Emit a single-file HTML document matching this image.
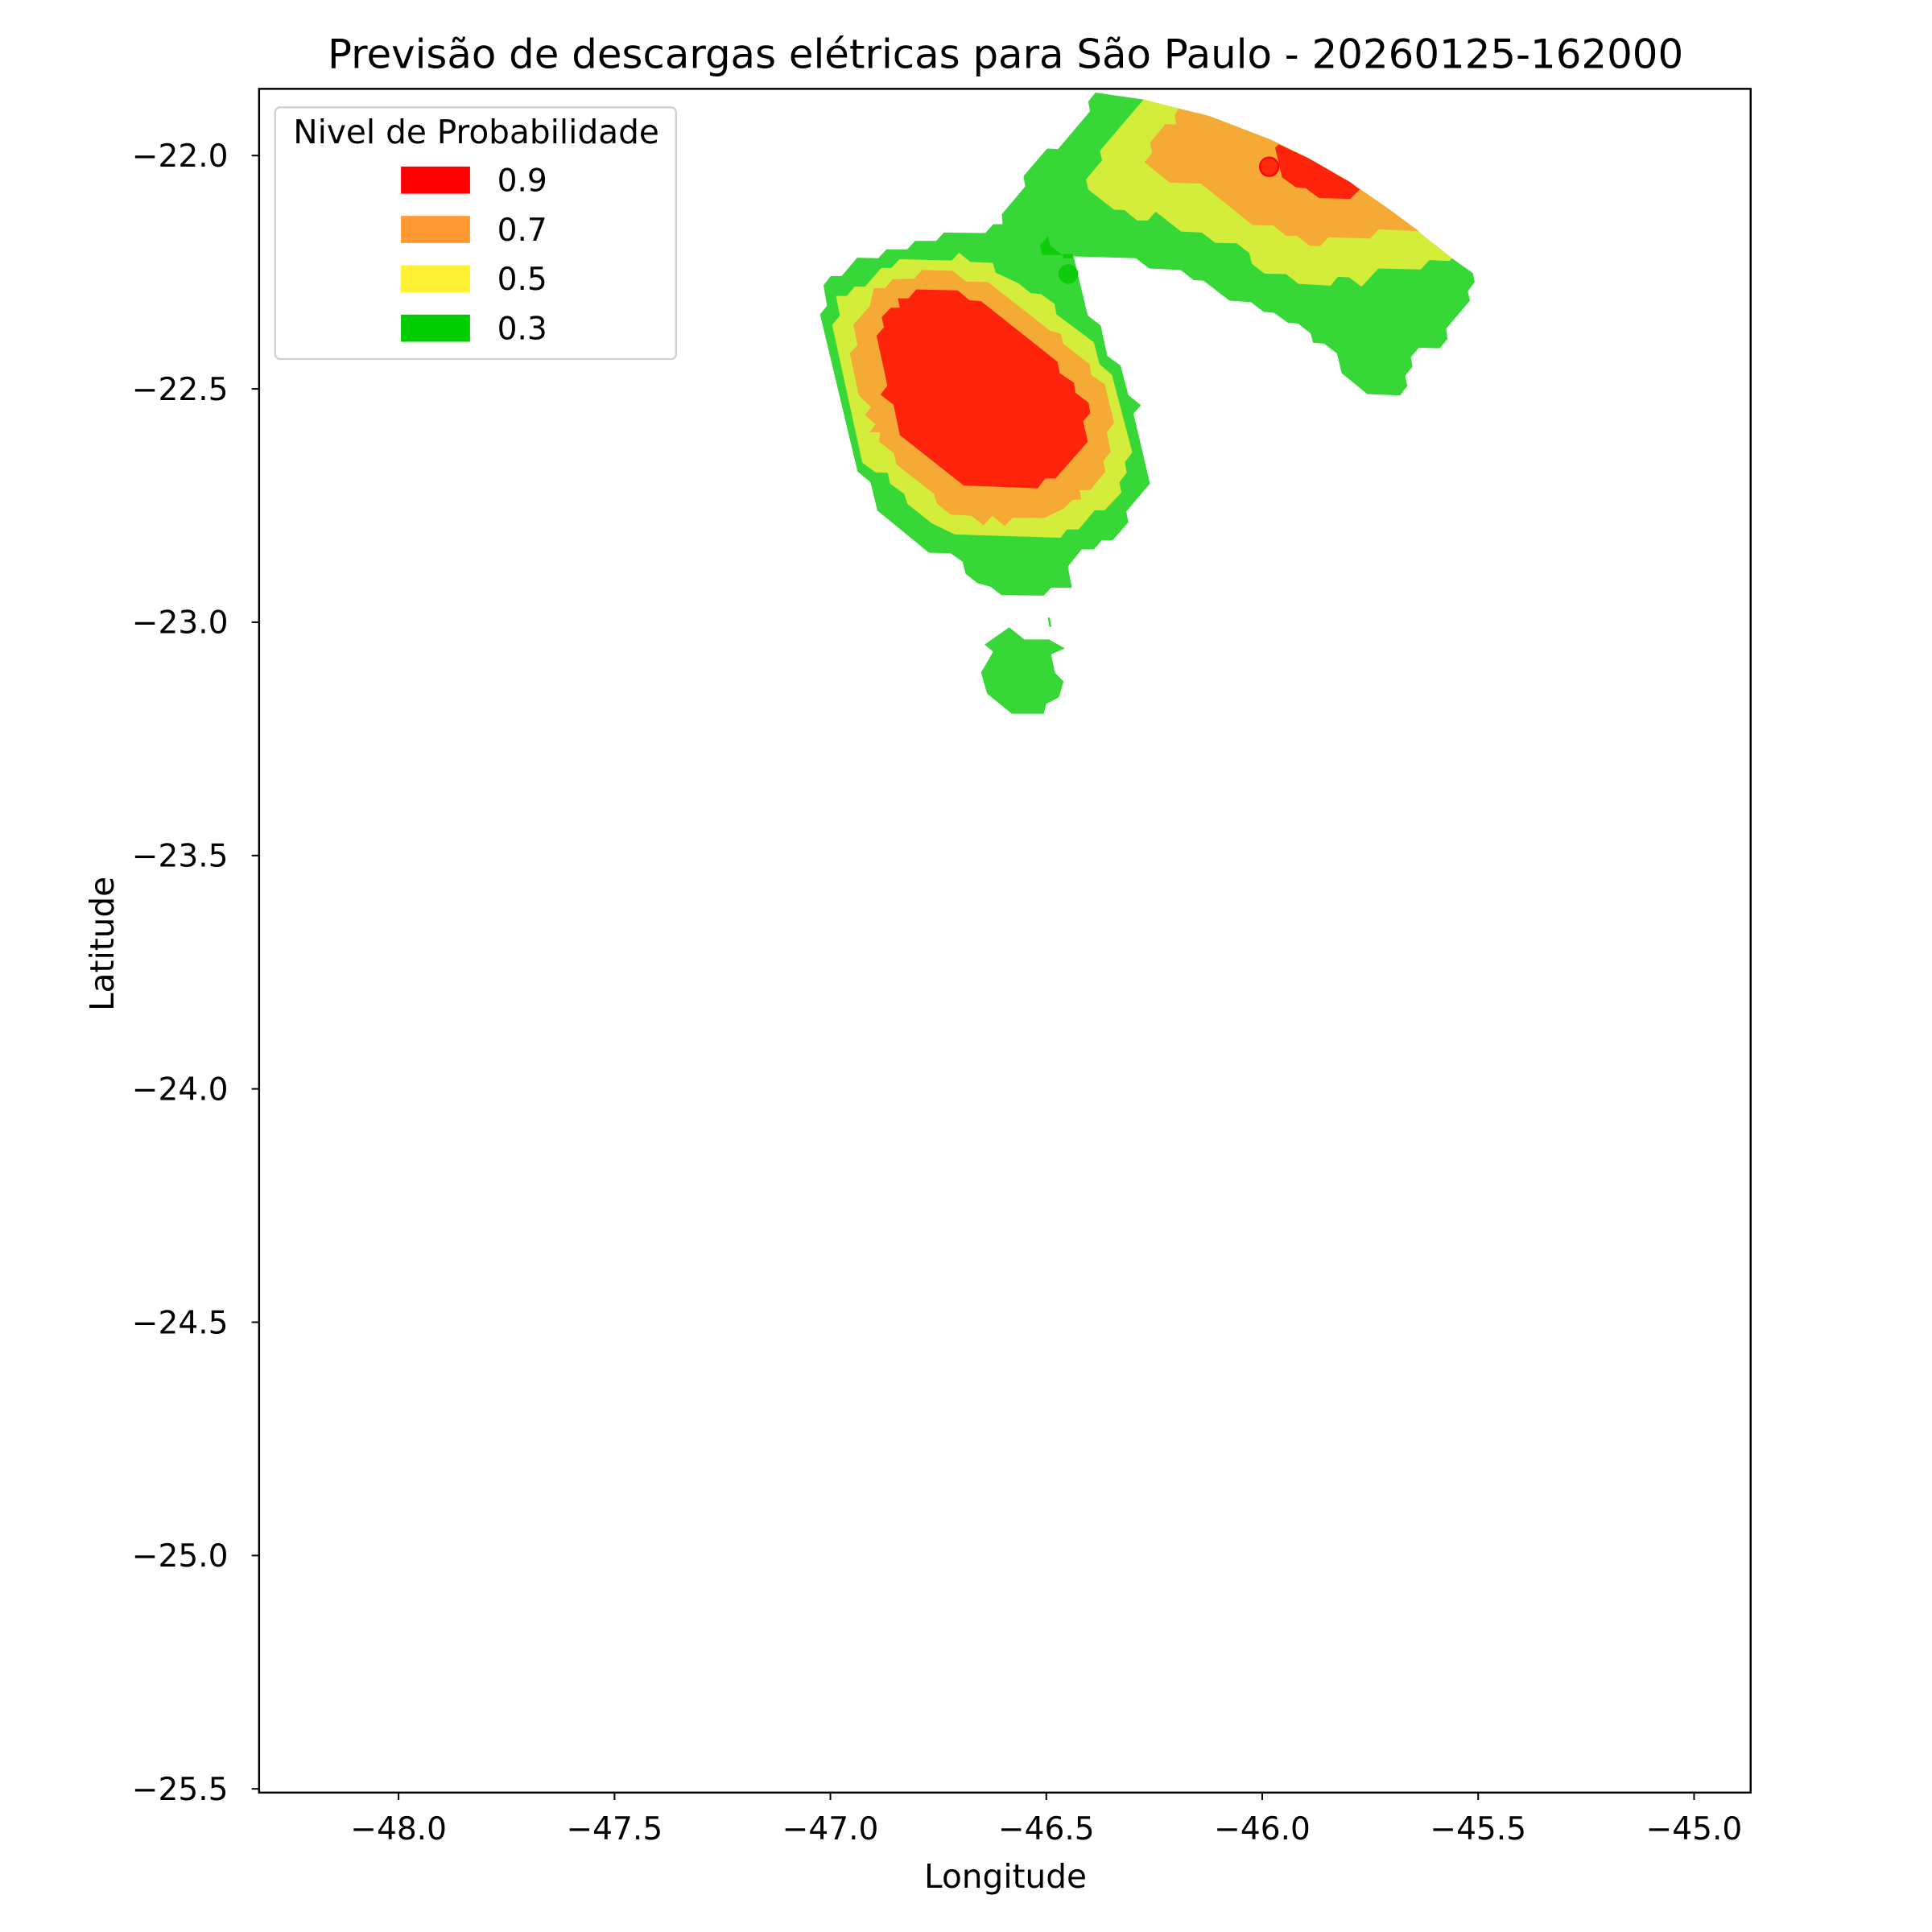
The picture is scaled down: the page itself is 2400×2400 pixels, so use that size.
<!DOCTYPE html>
<html><head><meta charset="utf-8"><style>
html,body{margin:0;padding:0;background:#fff;}
svg{display:block;font-family:"DejaVu Sans","Liberation Sans",sans-serif;}
</style></head><body>
<svg id="chart" width="2400" height="2400" viewBox="0 0 1566 1566" xmlns="http://www.w3.org/2000/svg">
<rect x="0" y="0" width="1566" height="1566" fill="#fff"/>
<g id="marks"></g>
<rect x="210" y="72" width="1209" height="1381" fill="none" stroke="#000" stroke-width="1.6"/>
<g id="axes"></g>
<text x="815" y="55" text-anchor="middle" font-size="32.5">Previsão de descargas elétricas para São Paulo - 20260125-162000</text>
<text x="815" y="1530" text-anchor="middle" font-size="26.5">Longitude</text>
<text x="0" y="0" transform="translate(92,765) rotate(-90)" text-anchor="middle" font-size="26.5">Latitude</text>
<g>
<rect x="223" y="87" width="325" height="204" rx="4" fill="#fff" fill-opacity="0.8" stroke="#d0d0d0" stroke-width="1.5"/>
<text x="386" y="116" text-anchor="middle" font-size="26.5">Nivel de Probabilidade</text>
<g id="legend-entries"></g>
</g>
</svg>
<script>
// axis ranges
const xDomain = [-48.323, -44.869];
const yDomain = [-21.857, -25.508];
const xTicks = [-48.0, -47.5, -47.0, -46.5, -46.0, -45.5, -45.0];
const yTicks = [-22.0, -22.5, -23.0, -23.5, -24.0, -24.5, -25.0, -25.5];
const levelLabels = ["0.9", "0.7", "0.5", "0.3"];

// contour polygons [lon, lat]
const greenMain = [[-47.024,-22.340],[-47.008,-22.322],[-47.016,-22.278],[-46.999,-22.258],[-46.974,-22.258],[-46.938,-22.219],[-46.889,-22.220],[-46.870,-22.201],[-46.822,-22.201],[-46.804,-22.183],[-46.755,-22.183],[-46.737,-22.165],[-46.641,-22.166],[-46.623,-22.147],[-46.601,-22.147],[-46.603,-22.126],[-46.549,-22.066],[-46.553,-22.044],[-46.498,-21.985],[-46.473,-21.986],[-46.399,-21.905],[-46.403,-21.884],[-46.386,-21.865],[-46.275,-21.880],[-46.194,-21.899],[-46.124,-21.915],[-45.980,-21.966],[-45.892,-22.006],[-45.796,-22.057],[-45.700,-22.119],[-45.637,-22.164],[-45.561,-22.220],[-45.512,-22.252],[-45.508,-22.271],[-45.524,-22.291],[-45.519,-22.311],[-45.574,-22.371],[-45.571,-22.393],[-45.589,-22.413],[-45.637,-22.412],[-45.656,-22.432],[-45.652,-22.452],[-45.669,-22.472],[-45.664,-22.494],[-45.681,-22.514],[-45.757,-22.511],[-45.816,-22.466],[-45.827,-22.424],[-45.857,-22.403],[-45.882,-22.401],[-45.888,-22.381],[-45.917,-22.360],[-45.941,-22.358],[-45.973,-22.337],[-45.997,-22.335],[-46.026,-22.314],[-46.076,-22.311],[-46.136,-22.268],[-46.159,-22.267],[-46.189,-22.245],[-46.262,-22.242],[-46.293,-22.220],[-46.437,-22.216],[-46.404,-22.343],[-46.374,-22.364],[-46.359,-22.429],[-46.328,-22.450],[-46.310,-22.513],[-46.281,-22.535],[-46.298,-22.553],[-46.260,-22.703],[-46.315,-22.763],[-46.310,-22.786],[-46.346,-22.824],[-46.371,-22.824],[-46.390,-22.844],[-46.418,-22.844],[-46.450,-22.881],[-46.441,-22.926],[-46.489,-22.926],[-46.506,-22.943],[-46.604,-22.942],[-46.629,-22.924],[-46.660,-22.916],[-46.687,-22.896],[-46.694,-22.870],[-46.722,-22.852],[-46.772,-22.851],[-46.891,-22.761],[-46.907,-22.700],[-46.937,-22.677]];
const greenSouth = [[-46.586,-23.011],[-46.551,-23.037],[-46.494,-23.037],[-46.457,-23.056],[-46.489,-23.069],[-46.480,-23.108],[-46.460,-23.127],[-46.471,-23.161],[-46.500,-23.175],[-46.506,-23.196],[-46.580,-23.196],[-46.637,-23.153],[-46.651,-23.108],[-46.623,-23.063],[-46.643,-23.048]];
const greenDash = [[-46.497,-22.990],[-46.492,-22.990],[-46.488,-23.010],[-46.493,-23.010]];
const greenSmall = [[-46.515,-22.193],[-46.496,-22.173],[-46.491,-22.193],[-46.463,-22.213],[-46.509,-22.213]];
const greenSquare = [[-46.461,-22.211],[-46.439,-22.211],[-46.439,-22.220],[-46.461,-22.220]];
const yellowSW = [[-46.996,-22.363],[-46.978,-22.343],[-46.987,-22.301],[-46.962,-22.301],[-46.944,-22.281],[-46.920,-22.281],[-46.882,-22.241],[-46.859,-22.241],[-46.840,-22.222],[-46.719,-22.225],[-46.702,-22.208],[-46.676,-22.228],[-46.624,-22.230],[-46.617,-22.251],[-46.564,-22.274],[-46.536,-22.295],[-46.512,-22.297],[-46.481,-22.318],[-46.477,-22.340],[-46.390,-22.400],[-46.377,-22.447],[-46.348,-22.470],[-46.301,-22.636],[-46.318,-22.657],[-46.314,-22.680],[-46.331,-22.700],[-46.326,-22.722],[-46.365,-22.760],[-46.388,-22.760],[-46.425,-22.801],[-46.452,-22.801],[-46.467,-22.819],[-46.712,-22.812],[-46.765,-22.788],[-46.822,-22.746],[-46.829,-22.725],[-46.862,-22.703],[-46.867,-22.680],[-46.895,-22.679],[-46.926,-22.658]];
const orangeSW = [[-46.955,-22.424],[-46.937,-22.406],[-46.947,-22.363],[-46.909,-22.323],[-46.899,-22.284],[-46.873,-22.284],[-46.856,-22.265],[-46.806,-22.264],[-46.788,-22.245],[-46.717,-22.247],[-46.685,-22.270],[-46.635,-22.271],[-46.492,-22.375],[-46.466,-22.382],[-46.461,-22.403],[-46.400,-22.447],[-46.396,-22.470],[-46.365,-22.490],[-46.343,-22.573],[-46.360,-22.593],[-46.351,-22.635],[-46.368,-22.655],[-46.363,-22.677],[-46.399,-22.717],[-46.423,-22.717],[-46.419,-22.737],[-46.439,-22.738],[-46.461,-22.757],[-46.505,-22.777],[-46.578,-22.776],[-46.596,-22.794],[-46.625,-22.772],[-46.645,-22.792],[-46.674,-22.772],[-46.722,-22.769],[-46.753,-22.746],[-46.760,-22.725],[-46.847,-22.662],[-46.853,-22.638],[-46.887,-22.613],[-46.885,-22.593],[-46.909,-22.593],[-46.895,-22.576],[-46.920,-22.556],[-46.906,-22.539],[-46.934,-22.514]];
const redSW = [[-46.893,-22.386],[-46.876,-22.368],[-46.881,-22.346],[-46.860,-22.326],[-46.839,-22.326],[-46.844,-22.306],[-46.819,-22.306],[-46.801,-22.287],[-46.705,-22.289],[-46.678,-22.310],[-46.651,-22.312],[-46.474,-22.442],[-46.469,-22.466],[-46.436,-22.487],[-46.433,-22.508],[-46.402,-22.530],[-46.398,-22.552],[-46.415,-22.569],[-46.404,-22.613],[-46.479,-22.692],[-46.503,-22.692],[-46.520,-22.713],[-46.691,-22.707],[-46.839,-22.599],[-46.854,-22.534],[-46.884,-22.512],[-46.868,-22.493]];
const yellowNE = [[-46.275,-21.880],[-46.376,-21.990],[-46.371,-22.010],[-46.408,-22.051],[-46.403,-22.073],[-46.343,-22.116],[-46.319,-22.117],[-46.290,-22.139],[-46.265,-22.139],[-46.247,-22.120],[-46.188,-22.163],[-46.140,-22.165],[-46.109,-22.187],[-46.059,-22.188],[-46.030,-22.209],[-46.024,-22.232],[-45.995,-22.253],[-45.945,-22.254],[-45.916,-22.275],[-45.842,-22.279],[-45.825,-22.260],[-45.799,-22.261],[-45.770,-22.281],[-45.731,-22.242],[-45.633,-22.244],[-45.613,-22.224],[-45.566,-22.226],[-45.561,-22.220],[-45.637,-22.164],[-45.700,-22.119],[-45.796,-22.057],[-45.892,-22.006],[-45.980,-21.966],[-46.124,-21.915],[-46.194,-21.899]];
const orangeNE = [[-46.194,-21.899],[-46.203,-21.914],[-46.199,-21.933],[-46.225,-21.933],[-46.260,-21.973],[-46.255,-21.994],[-46.273,-22.014],[-46.214,-22.058],[-46.142,-22.060],[-46.023,-22.149],[-45.974,-22.150],[-45.945,-22.172],[-45.920,-22.172],[-45.890,-22.193],[-45.866,-22.194],[-45.847,-22.175],[-45.750,-22.178],[-45.731,-22.158],[-45.637,-22.162],[-45.700,-22.119],[-45.796,-22.057],[-45.892,-22.006],[-45.980,-21.966],[-46.124,-21.915]];
const redNE = [[-45.962,-21.976],[-45.970,-21.983],[-45.954,-22.047],[-45.922,-22.068],[-45.899,-22.070],[-45.869,-22.091],[-45.797,-22.093],[-45.774,-22.073],[-45.796,-22.057],[-45.892,-22.006]];
const markerRed = [-45.984, -22.024];
const markerGreen = [-46.449, -22.254];

const NS = "http://www.w3.org/2000/svg";
const PL = 210, PR = 1419, PT = 72, PB = 1453;
function sx(v){ return PL + (v - xDomain[0]) / (xDomain[1] - xDomain[0]) * (PR - PL); }
function sy(v){ return PT + (v - yDomain[0]) / (yDomain[1] - yDomain[0]) * (PB - PT); }
function mk(tag, attrs){ const e = document.createElementNS(NS, tag); for (const k in attrs) e.setAttribute(k, attrs[k]); return e; }

const marks = document.getElementById("marks");
function poly(pts, fill, name){
  const p = mk("polygon", {points: pts.map(q => sx(q[0]).toFixed(1) + "," + sy(q[1]).toFixed(1)).join(" "), fill: fill});
  
  
  marks.appendChild(p);
}
poly(greenMain, "#37d737", "contour-0.3-main");
poly(greenSouth, "#37d737", "contour-0.3-south");
poly(greenDash, "#37d737", "contour-0.3-fragment");
poly(yellowSW, "#d4ed3a", "contour-0.5-southwest");
poly(orangeSW, "#f5aa35", "contour-0.7-southwest");
poly(redSW, "#fe240c", "contour-0.9-southwest");
poly(yellowNE, "#d4ed3a", "contour-0.5-northeast");
poly(orangeNE, "#f5aa35", "contour-0.7-northeast");
poly(redNE, "#fe240c", "contour-0.9-northeast");
poly(greenSmall, "#0ccc0c", "contour-0.3-small");
poly(greenSquare, "#0ccc0c", "contour-0.3-square");

const c1 = mk("circle", {cx: sx(markerRed[0]), cy: sy(markerRed[1]), r: 7.5, fill: "#ff2a10", stroke: "#ff0000", "stroke-width": 1.5});


marks.appendChild(c1);
const c2 = mk("circle", {cx: sx(markerGreen[0]), cy: sy(markerGreen[1]), r: 8, fill: "#0ccc0c"});


marks.appendChild(c2);

const axes = document.getElementById("axes");
xTicks.forEach(t => {
  const x = sx(t);
  const l = mk("line", {x1: x, x2: x, y1: PB, y2: PB + 6, stroke: "#000", "stroke-width": 1.3});
  
  
  axes.appendChild(l);
  const tx = mk("text", {x: x, y: PB + 38, "text-anchor": "middle", "font-size": 25.5});
  tx.textContent = "\u2212" + Math.abs(t).toFixed(1);
  
  
  axes.appendChild(tx);
});
yTicks.forEach(t => {
  const y = sy(t);
  const l = mk("line", {x1: PL - 6, x2: PL, y1: y, y2: y, stroke: "#000", "stroke-width": 1.3});
  
  
  axes.appendChild(l);
  const tx = mk("text", {x: PL - 25, y: y + 9, "text-anchor": "end", "font-size": 25.5});
  tx.textContent = "\u2212" + Math.abs(t).toFixed(1);
  
  
  axes.appendChild(tx);
});

const legendColors = ["#ff0000", "#ff9933", "#fff133", "#00cc00"];
const le = document.getElementById("legend-entries");
levelLabels.forEach((lab, i) => {
  const y = 135 + i * 40;
  const r = mk("rect", {x: 325, y: y, width: 56, height: 22, fill: legendColors[i]});
  
  
  le.appendChild(r);
  const t = mk("text", {x: 403, y: y + 20, "font-size": 25.5});
  t.textContent = lab;
  
  
  le.appendChild(t);
});
</script>
</body></html>
